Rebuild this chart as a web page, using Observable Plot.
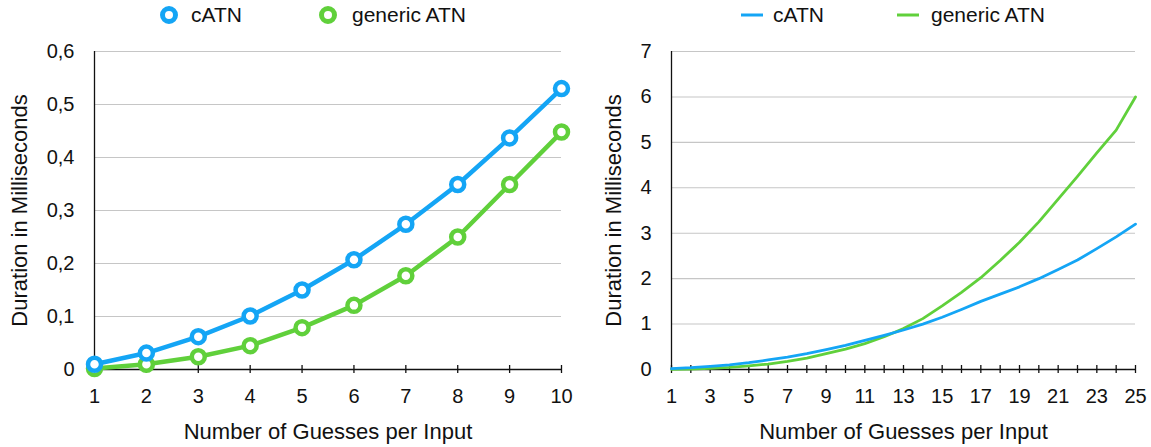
<!DOCTYPE html>
<html>
<head>
<meta charset="utf-8">
<script src="https://cdn.jsdelivr.net/npm/d3@7"></script>
<script src="https://cdn.jsdelivr.net/npm/@observablehq/plot@0.6"></script>
<style>
  html, body { margin: 0; padding: 0; background: #ffffff; }
  body { font-family: "Liberation Sans", Arial, Helvetica, sans-serif; }
  #root { position: relative; width: 1151px; height: 447px; overflow: hidden; background: #fff; }
  .legend { position: absolute; top: 0; height: 34px; }
  .item { position: absolute; top: -2px; height: 34px; display: flex; align-items: center; font-size: 21px; color: #111; white-space: nowrap; }
  .sw { position: absolute; top: -2px; }
  .chart { position: absolute; top: 34px; }
  .chart svg { display: block; }
</style>
</head>
<body>
<div id="root">
  <div id="legendL" class="legend" style="left:0;width:580px"></div>
  <div id="legendR" class="legend" style="left:580px;width:571px"></div>
  <div id="chartL" class="chart" style="left:0"></div>
  <div id="chartR" class="chart" style="left:580px"></div>
</div>
<script>
// ---- data ----
const seriesNames = ["cATN", "generic ATN"];
const seriesColors = ["#14a5f5", "#60d03b"];

const guessesLeft = [1, 2, 3, 4, 5, 6, 7, 8, 9, 10];
const catnLeft    = [0.010, 0.031, 0.062, 0.101, 0.150, 0.207, 0.274, 0.349, 0.437, 0.530];
const genericLeft = [0.002, 0.010, 0.024, 0.045, 0.079, 0.121, 0.177, 0.250, 0.349, 0.448];

const guessesRight = [1, 2, 3, 4, 5, 6, 7, 8, 9, 10, 11, 12, 13, 14, 15, 16, 17, 18, 19, 20, 21, 22, 23, 24, 25];
const catnRight    = [0.02, 0.04, 0.07, 0.10, 0.15, 0.21, 0.27, 0.35, 0.44, 0.53, 0.64, 0.75, 0.87, 1.00, 1.15, 1.32, 1.50, 1.66, 1.82, 2.00, 2.20, 2.41, 2.66, 2.92, 3.20];
const genericRight = [0.005, 0.01, 0.025, 0.045, 0.08, 0.12, 0.18, 0.25, 0.35, 0.45, 0.57, 0.72, 0.90, 1.12, 1.40, 1.70, 2.02, 2.40, 2.80, 3.25, 3.75, 4.25, 4.77, 5.27, 6.00];

const yTicksLeft = [0, 0.1, 0.2, 0.3, 0.4, 0.5, 0.6];
const xTicksLeft = [1, 2, 3, 4, 5, 6, 7, 8, 9, 10];
const yTicksRight = [0, 1, 2, 3, 4, 5, 6, 7];
const xTicksRight = [1, 2, 3, 4, 5, 6, 7, 8, 9, 10, 11, 12, 13, 14, 15, 16, 17, 18, 19, 20, 21, 22, 23, 24, 25];
const xLabelsRight = [1, 3, 5, 7, 9, 11, 13, 15, 17, 19, 21, 23, 25];

const xTitle = "Number of Guesses per Input";
const yTitle = "Duration in Milliseconds";

// ---- helpers ----
const FONT = "'Liberation Sans', Arial, Helvetica, sans-serif";
const commaFmt = d => d === 0 ? "0" : d3.format(".1f")(d).replace(".", ",");
const toRows = (xs, ys) => xs.map((x, i) => ({x, y: ys[i]}));

function frameMarks(yTicks, xTicks, xLabels, yFmt, yTitleDx) {
  return [
    Plot.gridY(yTicks.filter(d => d !== 0), {stroke: "#c6c6c6", strokeOpacity: 1, strokeWidth: 1.1}),
    Plot.axisY(yTicks, {tickSize: 0, tickPadding: 20, tickFormat: yFmt, label: null, fontSize: 20, fill: "#111"}),
    Plot.ruleX([xTicks[0]], {stroke: "#111", strokeWidth: 1.3}),
    Plot.ruleY([0], {stroke: "#111", strokeWidth: 1.3}),
    Plot.axisX(xTicks, {tickSize: 8, dy: -4, tickFormat: () => "", label: null, stroke: "#111", strokeWidth: 1.3}),
    Plot.axisX(xLabels, {tickSize: 0, tickPadding: 19, label: null, fontSize: 20, fill: "#111"}),
    Plot.text([xTitle], {frameAnchor: "bottom", dy: 69, fontSize: 22, fill: "#111", textAnchor: "middle"}),
    Plot.text([yTitle], {frameAnchor: "left", rotate: -90, dx: yTitleDx, fontSize: 22, fill: "#111", textAnchor: "middle"})
  ];
}

// ---- left chart ----
const left = Plot.plot({
  width: 580, height: 413,
  marginTop: 17, marginBottom: 78, marginLeft: 94, marginRight: 19,
  x: {domain: [1, 10]},
  y: {domain: [0, 0.6]},
  style: {fontFamily: FONT, fontSize: "20px", color: "#111", background: "white", overflow: "visible"},
  marks: [
    ...frameMarks(yTicksLeft, xTicksLeft, xTicksLeft, commaFmt, -75),
    Plot.line(toRows(guessesLeft, genericLeft), {x: "x", y: "y", stroke: seriesColors[1], strokeWidth: 4.5}),
    Plot.dot(toRows(guessesLeft, genericLeft), {x: "x", y: "y", r: 6.5, stroke: seriesColors[1], strokeWidth: 4.5, fill: "white"}),
    Plot.line(toRows(guessesLeft, catnLeft), {x: "x", y: "y", stroke: seriesColors[0], strokeWidth: 4.5}),
    Plot.dot(toRows(guessesLeft, catnLeft), {x: "x", y: "y", r: 6.5, stroke: seriesColors[0], strokeWidth: 4.5, fill: "white"})
  ]
});
document.getElementById("chartL").appendChild(left);

// ---- right chart ----
const right = Plot.plot({
  width: 571, height: 413,
  marginTop: 17, marginBottom: 78, marginLeft: 91, marginRight: 16,
  x: {domain: [1, 25]},
  y: {domain: [0, 7]},
  style: {fontFamily: FONT, fontSize: "20px", color: "#111", background: "white", overflow: "visible"},
  marks: [
    ...frameMarks(yTicksRight, xTicksRight, xLabelsRight, d => String(d), -58),
    Plot.line(toRows(guessesRight, genericRight), {x: "x", y: "y", stroke: seriesColors[1], strokeWidth: 2.8}),
    Plot.line(toRows(guessesRight, catnRight), {x: "x", y: "y", stroke: seriesColors[0], strokeWidth: 2.8})
  ]
});
document.getElementById("chartR").appendChild(right);

// ---- legends ----
function addLegend(containerId, items) {
  const c = document.getElementById(containerId);
  items.forEach(it => {
    const sw = document.createElementNS("http://www.w3.org/2000/svg", "svg");
    sw.setAttribute("class", "sw");
    sw.setAttribute("width", 30); sw.setAttribute("height", 34);
    sw.style.left = (it.swX - 15) + "px";
    if (it.kind === "dot") {
      sw.innerHTML = `<circle cx="15" cy="17" r="6.5" fill="white" stroke="${it.color}" stroke-width="5"/>`;
    } else {
      sw.innerHTML = `<line x1="4" x2="26" y1="17" y2="17" stroke="${it.color}" stroke-width="3"/>`;
    }
    c.appendChild(sw);
    const t = document.createElement("div");
    t.className = "item";
    t.style.left = it.textX + "px";
    t.textContent = it.name;
    c.appendChild(t);
  });
}
addLegend("legendL", [
  {kind: "dot", color: seriesColors[0], name: seriesNames[0], swX: 169, textX: 191},
  {kind: "dot", color: seriesColors[1], name: seriesNames[1], swX: 328, textX: 352}
]);
addLegend("legendR", [
  {kind: "line", color: seriesColors[0], name: seriesNames[0], swX: 172, textX: 193},
  {kind: "line", color: seriesColors[1], name: seriesNames[1], swX: 328, textX: 351}
]);
</script>
</body>
</html>
